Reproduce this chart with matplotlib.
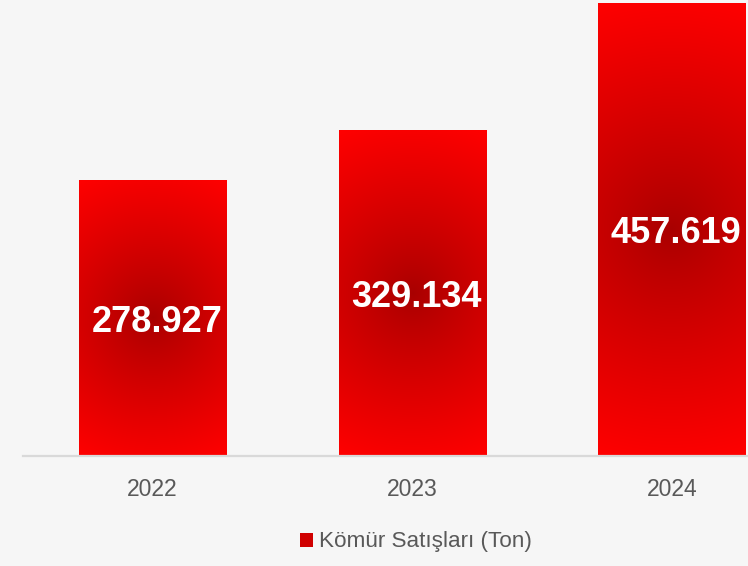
import numpy as np
import matplotlib.pyplot as plt

# data
years = ['2022', '2023', '2024']
sales = [278.927, 329.134, 457.619]
labels = ['278.927', '329.134', '457.619']
series_name = 'Kömür Satışları (Ton)'

plt.rcParams['font.family'] = ['Liberation Sans', 'DejaVu Sans']

fig = plt.figure(figsize=(7.48, 5.66), dpi=100)
fig.patch.set_facecolor('#f6f6f6')
ax = fig.add_axes([0, 110 / 566, 1, 456 / 566])
ax.set_facecolor('#f6f6f6')

x = np.arange(len(years))
bar_w = 0.567
ax.set_xlim(-0.588, 2.294)
ax.set_ylim(0, 460.6)

bars = ax.bar(x, sales, width=bar_w, color='#e00000', label=series_name, zorder=2)

# radial gradient inside each bar (dark centre -> bright red edge)
px_per_x = 259.5
px_per_y = 456 / 460.6
dark = np.array([168, 0, 0]) / 255
bright = np.array([255, 0, 0]) / 255
for xi, v, b in zip(x, sales, bars):
    wpx = bar_w * px_per_x
    hpx = v * px_per_y
    nx, ny = 150, int(hpx)
    u = (np.linspace(0, 1, nx) - 0.5) * wpx
    w = (np.linspace(0, 1, ny) - 0.5) * hpx
    U, W = np.meshgrid(u, w)
    r = np.sqrt(U ** 2 + W ** 2) / np.sqrt((wpx / 2) ** 2 + (hpx / 2) ** 2)
    r = np.clip(r, 0, 1) ** 0.85
    img = dark + (bright - dark) * r[..., None]
    im = ax.imshow(img, extent=(xi - bar_w / 2, xi + bar_w / 2, 0, v),
                   aspect='auto', interpolation='bilinear', zorder=3)
    im.set_clip_path(b)

for xi, v, t in zip(x, sales, labels):
    ax.text(xi + 0.016, v / 2 - 4.5, t, ha='center', va='center', color='white',
            fontsize=26, fontweight='bold', zorder=4)

ax.plot([-0.5, 2.5], [0, 0], color='#d9d9d9', lw=1.6, zorder=5, clip_on=False)

ax.set_xticks(x)
ax.set_xticklabels(years, fontsize=16.5, color='#595959')
ax.tick_params(axis='x', length=0, pad=16)
ax.set_yticks([])
for s in ax.spines.values():
    s.set_visible(False)

leg = fig.legend(handles=[bars], labels=[series_name], loc='center',
                 bbox_to_anchor=(416 / 748, 1 - 542 / 566), frameon=False,
                 fontsize=16.2, labelcolor='#595959', handlelength=0.58,
                 handleheight=0.58, handletextpad=0.3)
leg.legend_handles[0].set_facecolor('#d00000')

fig.savefig('out.png', dpi=100, facecolor=fig.get_facecolor())
